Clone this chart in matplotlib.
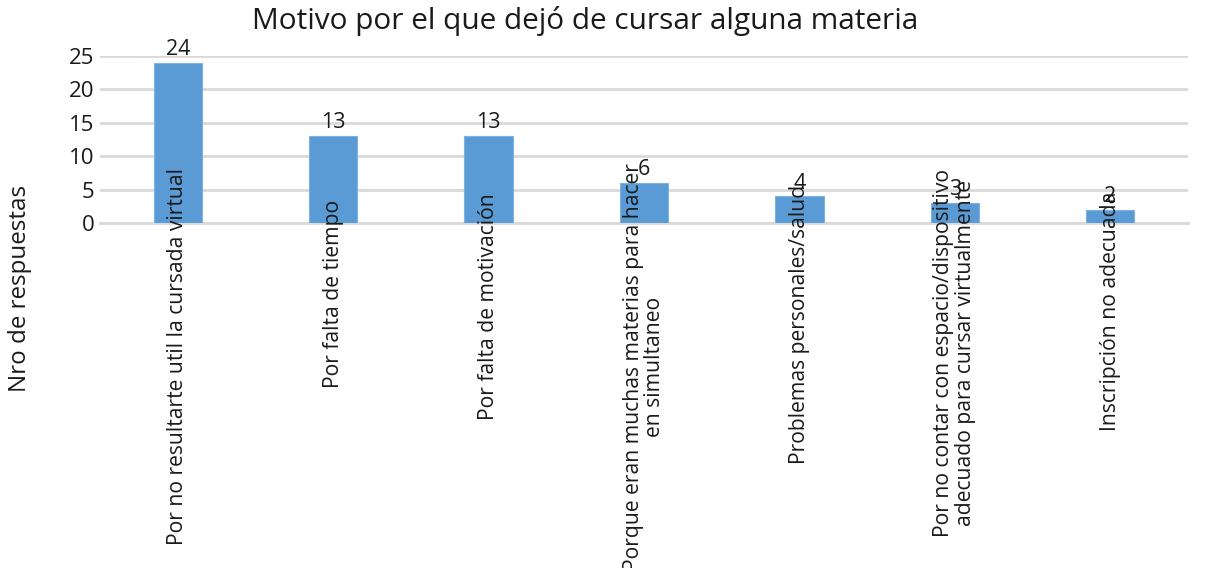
import matplotlib
matplotlib.use("Agg")
import matplotlib.pyplot as plt
from matplotlib.transforms import offset_copy, blended_transform_factory

plt.rcParams['font.family'] = ['Open Sans', 'DejaVu Sans']

categories = [
    "Por no resultarte util la cursada virtual",
    "Por falta de tiempo",
    "Por falta de motivación",
    "Porque eran muchas materias para hacer\nen simultaneo",
    "Problemas personales/salud",
    "Por no contar con espacio/dispositivo\nadecuado para cursar virtualmente",
    "Inscripción no adecuada",
]
values = [24, 13, 13, 6, 4, 3, 2]
yticks = [0, 5, 10, 15, 20, 25]

title = "Motivo por el que dejó de cursar alguna materia"
ylabel = "Nro de respuestas"

BAR = "#5B9BD5"
GRID = "#D9D9D9"
TEXT = "#1a1a1a"
W, H, DPI = 1210, 568, 100

fig = plt.figure(figsize=(W / DPI, H / DPI), dpi=DPI)
ax = fig.add_axes([100 / W, 1 - 223 / H, 1088 / W, 167 / H])

x = list(range(len(categories)))
bars = ax.bar(x, values, width=0.31, color=BAR, edgecolor="#7FB2E0",
              linewidth=0.8, zorder=3)

ax.set_xlim(-0.5, len(categories) - 0.5)
ax.set_ylim(0, 25)
ax.set_yticks(yticks)
ax.yaxis.grid(True, color=GRID, linewidth=2, zorder=0)
ax.set_axisbelow(True)
for s in ["top", "right", "left"]:
    ax.spines[s].set_visible(False)
ax.spines["bottom"].set_color(GRID)
ax.spines["bottom"].set_linewidth(2)
ax.tick_params(axis="y", length=0, pad=4, labelsize=16, labelcolor=TEXT)
ax.tick_params(axis="x", length=0)
ax.set_xticks(x)
ax.set_xticklabels([])

# value labels above each bar
for xi, v in zip(x, values):
    ax.annotate(str(v), (xi, v), xytext=(0, 2), textcoords="offset points",
                ha="center", va="bottom", fontsize=15.5, color=TEXT,
                annotation_clip=False)

# category labels, rotated and pulled up into the bars
trans = blended_transform_factory(ax.transData, ax.transAxes)
labels = []
for xi, cat in zip(x, categories):
    t = ax.text(xi, 0, cat, transform=trans, rotation=90, ha="center",
                va="top", multialignment="center", fontsize=15.2,
                linespacing=1.05, color=TEXT, zorder=5)
    labels.append(t)

fig.canvas.draw()
renderer = fig.canvas.get_renderer()
for t in labels:
    h = t.get_window_extent(renderer).height
    shift_px = 0.17 * h - 9
    t.set_transform(offset_copy(trans, fig=fig, x=0, y=shift_px * 72 / DPI,
                                units="points"))

fig.text(585 / W, 1 - 21 / H, title, ha="center", va="center",
         fontsize=21.4, color=TEXT)
fig.text(20 / W, 1 - 288 / H, ylabel, ha="center", va="center",
         rotation=90, fontsize=17.4, color=TEXT)

fig.savefig("out.png", dpi=DPI, facecolor="white")
